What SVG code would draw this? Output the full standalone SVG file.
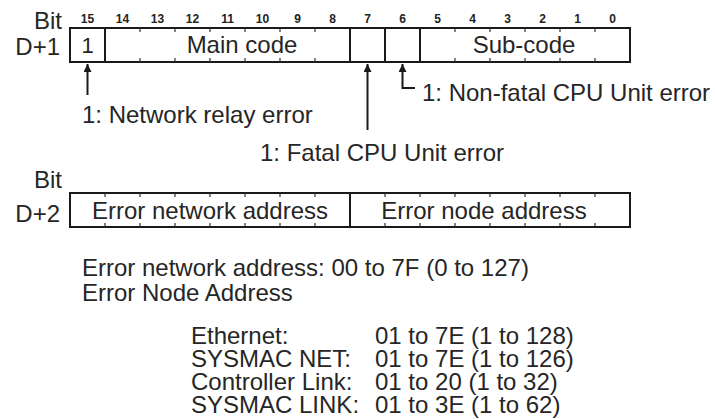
<svg xmlns="http://www.w3.org/2000/svg" width="715" height="419" viewBox="0 0 715 419">
<style>
.t{font-family:"Liberation Sans",Arial,sans-serif;font-size:24px;fill:#262626}
.m{text-anchor:middle}
.e{text-anchor:end}
.b{font-family:"Liberation Sans",Arial,sans-serif;font-size:12px;font-weight:bold;fill:#222;text-anchor:middle}
.box{fill:#fff;stroke:#1a1a1a;stroke-width:2}
.div{stroke:#1a1a1a;stroke-width:2}
.tick{stroke:#333;stroke-width:1.2}
.con{fill:none;stroke:#1a1a1a;stroke-width:2}
</style>
<defs>
<marker id="ah" viewBox="0 0 10 10" refX="10" refY="5" markerWidth="4" markerHeight="4" orient="auto" markerUnits="strokeWidth">
<path d="M0,0 L10,5 L0,10 z" fill="#1a1a1a"/>
</marker>
</defs>
<rect width="715" height="419" fill="#fff"/>

<g id="word1">
<text class="t e" x="62" y="29">Bit</text>
<text class="t e" x="60" y="55">D+1</text>
<g>
<text class="b" x="87.5" y="23">15</text>
<text class="b" x="122.5" y="23">14</text>
<text class="b" x="157.5" y="23">13</text>
<text class="b" x="192.5" y="23">12</text>
<text class="b" x="227.5" y="23">11</text>
<text class="b" x="262.5" y="23">10</text>
<text class="b" x="297.5" y="23">9</text>
<text class="b" x="332.5" y="23">8</text>
<text class="b" x="367.5" y="23">7</text>
<text class="b" x="402.5" y="23">6</text>
<text class="b" x="437.5" y="23">5</text>
<text class="b" x="472.5" y="23">4</text>
<text class="b" x="507.5" y="23">3</text>
<text class="b" x="542.5" y="23">2</text>
<text class="b" x="577.5" y="23">1</text>
<text class="b" x="612.5" y="23">0</text>
</g>
<rect class="box" x="70" y="28" width="560" height="34"/>
<path class="div" d="M105,28V62M350,28V62M385,28V62M420,28V62"/>
<path class="tick" d="M140,28v4M175,28v4M210,28v4M245,28v4M280,28v4M315,28v4M455,28v4M490,28v4M525,28v4M560,28v4M595,28v4M140,62v-4M175,62v-4M210,62v-4M245,62v-4M280,62v-4M315,62v-4M455,62v-4M490,62v-4M525,62v-4M560,62v-4M595,62v-4"/>
<text class="t m" x="87.5" y="53" style="font-size:22px">1</text>
<text class="t m" x="242" y="53">Main code</text>
<text class="t m" x="524" y="53">Sub-code</text>
</g>

<g id="word2">
<text class="t e" x="62" y="188">Bit</text>
<text class="t e" x="60" y="222">D+2</text>
<rect class="box" x="70" y="193" width="560" height="34"/>
<path class="div" d="M350,193V227"/>
<path class="tick" d="M105,193v4M140,193v4M175,193v4M210,193v4M245,193v4M280,193v4M315,193v4M385,193v4M420,193v4M455,193v4M490,193v4M525,193v4M560,193v4M595,193v4M105,227v-4M140,227v-4M175,227v-4M210,227v-4M245,227v-4M280,227v-4M315,227v-4M385,227v-4M420,227v-4M455,227v-4M490,227v-4M525,227v-4M560,227v-4M595,227v-4"/>
<text class="t m" x="210" y="219">Error network address</text>
<text class="t m" x="484" y="219">Error node address</text>
</g>

<g id="connectors">
<path class="con" d="M87.5,95V64" marker-end="url(#ah)"/>
<path class="con" d="M367.5,130V64" marker-end="url(#ah)"/>
<path class="con" d="M415,88H402.5V64" marker-end="url(#ah)"/>
</g>

<g id="label-relay"><text class="t" x="82" y="123">1: Network relay error</text></g>
<g id="label-fatal"><text class="t" x="260" y="161">1: Fatal CPU Unit error</text></g>
<g id="label-nonfatal"><text class="t" x="422" y="101">1: Non-fatal CPU Unit error</text></g>

<g id="notes">
<text class="t" x="82" y="276">Error network address: 00 to 7F (0 to 127)</text>
<text class="t" x="82" y="301">Error Node Address</text>
<text class="t" x="191" y="344">Ethernet:</text>
<text class="t" x="375" y="344">01 to 7E (1 to 128)</text>
<text class="t" x="191" y="367">SYSMAC NET:</text>
<text class="t" x="375" y="367">01 to 7E (1 to 126)</text>
<text class="t" x="191" y="390">Controller Link:</text>
<text class="t" x="375" y="390">01 to 20 (1 to 32)</text>
<text class="t" x="191" y="413">SYSMAC LINK:</text>
<text class="t" x="375" y="413">01 to 3E (1 to 62)</text>
</g>
</svg>
